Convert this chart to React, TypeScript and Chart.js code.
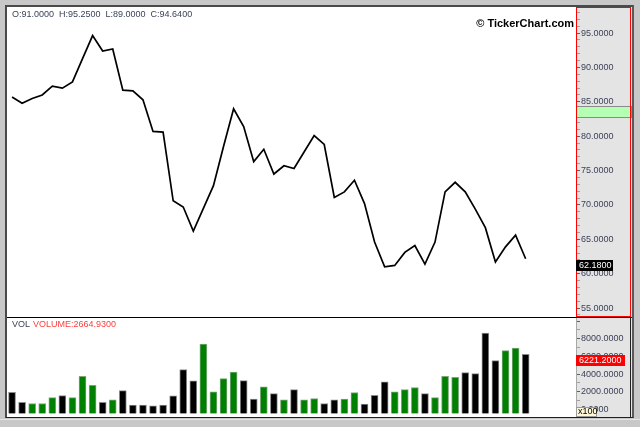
import React, { useEffect, useRef } from 'react';
import { Chart, registerables } from 'chart.js';

Chart.register(...registerables);

// ---- Data ----
const closes: number[] = [
  85.7, 84.8, 85.5, 86.0, 87.3, 87.0, 87.9, 91.3, 94.64, 92.4,
  92.7, 86.7, 86.6, 85.3, 80.7, 80.6, 70.6, 69.7, 66.2, 69.5,
  72.8, 78.5, 84.0, 81.4, 76.3, 78.1, 74.5, 75.7, 75.3, 77.7,
  80.1, 78.8, 71.1, 71.9, 73.6, 70.2, 64.6, 61.0, 61.2, 63.1,
  64.1, 61.4, 64.6, 71.9, 73.3, 71.9, 69.4, 66.7, 61.7, 63.9,
  65.6, 62.18,
];

const volumes: number[] = [
  1950, 820, 680, 680, 1350, 1580, 1350, 3750, 2740, 820,
  1090, 2140, 490, 490, 410, 490, 1540, 4510, 3230, 7400,
  1990, 3490, 4240, 3270, 1170, 2550, 1800, 1090, 2250, 1090,
  1240, 680, 1090, 1170, 1920, 600, 1610, 3120, 1990, 2250,
  2480, 1800, 1350, 3750, 3640, 4170, 4060, 8640, 5520, 6650,
  6950, 6221.2,
];

// 1 = up bar (green), 0 = down bar (black)
const upFlags: number[] = [
  0, 0, 1, 1, 1, 0, 1, 1, 1, 0,
  1, 0, 0, 0, 0, 0, 0, 0, 0, 1,
  1, 1, 1, 0, 0, 1, 0, 1, 0, 1,
  1, 0, 0, 1, 1, 0, 0, 0, 1, 1,
  1, 0, 1, 1, 1, 0, 0, 0, 0, 1,
  1, 0,
];

// axis tick values (labelled every 5 for price, every 2000 for volume)
const priceTicks: number[] = [
  54, 55, 56, 57, 58, 59, 60, 61, 62, 63, 64, 65, 66, 67, 68, 69, 70, 71, 72, 73, 74, 75,
  76, 77, 78, 79, 80, 81, 82, 83, 84, 85, 86, 87, 88, 89, 90, 91, 92, 93, 94, 95, 96, 97, 98,
];
const volumeTicks: number[] = [0, 1000, 2000, 3000, 4000, 5000, 6000, 7000, 8000, 9000, 10000];

const ohlcText = 'O:91.0000  H:95.2500  L:89.0000  C:94.6400';
const copyrightText = '\u00A9 TickerChart.com';
const volLabel = 'VOL';
const volumeText = 'VOLUME:2664.9300';
const lastPrice = 62.18;
const lastVolume = 6221.2;
const bandHigh = 84.4;
const bandLow = 82.8;
const volMultiplier = 'x100';

const FONT = 'Liberation Sans';
const AXIS_W = 56;

const fitAxis = (s: any) => {
  s.width = AXIS_W;
  s.paddingTop = 0;
  s.paddingBottom = 0;
};

const pricePlugin = {
  id: 'pricePlugin',
  beforeDraw(chart: any) {
    const { ctx, width, height, chartArea } = chart;
    ctx.save();
    ctx.fillStyle = '#ffffff';
    ctx.fillRect(0, 0, width, height);
    ctx.fillStyle = '#e4e4e4';
    ctx.fillRect(chartArea.right, 0, width - chartArea.right, height);
    ctx.restore();
  },
  afterDraw(chart: any) {
    const { ctx, width, height, chartArea } = chart;
    const ys = chart.scales.y;
    const ax = chartArea.right;
    ctx.save();
    // green band
    const y1 = Math.round(ys.getPixelForValue(bandHigh));
    const y2 = Math.round(ys.getPixelForValue(bandLow));
    ctx.fillStyle = '#b4ffb4';
    ctx.fillRect(ax, y1, width - ax, y2 - y1);
    ctx.strokeStyle = '#8a8a8a';
    ctx.lineWidth = 1;
    ctx.strokeRect(ax + 0.5, y1 + 0.5, width - ax - 1, y2 - y1);
    // red frame of axis
    ctx.strokeStyle = '#ff0000';
    ctx.strokeRect(ax + 0.5, 0.5, width - ax - 2, height - 1);
    // last price tag
    const ty = Math.round(ys.getPixelForValue(lastPrice)) + 1;
    ctx.fillStyle = '#000000';
    ctx.fillRect(ax, ty, 37, 11);
    ctx.fillStyle = '#ffffff';
    ctx.font = `9px "${FONT}"`;
    ctx.textBaseline = 'middle';
    ctx.textAlign = 'left';
    ctx.fillText(lastPrice.toFixed(4), ax + 3, ty + 6);
    // texts
    ctx.fillStyle = '#3c4258';
    ctx.fillText(ohlcText, 5, 8);
    ctx.fillStyle = '#000000';
    ctx.font = `bold 11px "${FONT}"`;
    ctx.textAlign = 'right';
    ctx.fillText(copyrightText, ax - 2, 17);
    ctx.restore();
  },
};

const volumePlugin = {
  id: 'volumePlugin',
  beforeDraw(chart: any) {
    const { ctx, width, height, chartArea } = chart;
    ctx.save();
    ctx.fillStyle = '#ffffff';
    ctx.fillRect(0, 0, width, height);
    ctx.fillStyle = '#e4e4e4';
    ctx.fillRect(chartArea.right, 0, width - chartArea.right, height);
    ctx.restore();
  },
  afterDraw(chart: any) {
    const { ctx, width, height, chartArea } = chart;
    const ys = chart.scales.y;
    const ax = chartArea.right;
    ctx.save();
    ctx.strokeStyle = '#a8a8a8';
    ctx.lineWidth = 1;
    ctx.beginPath();
    ctx.moveTo(ax + 0.5, 0);
    ctx.lineTo(ax + 0.5, height);
    ctx.stroke();
    ctx.strokeStyle = '#202020';
    ctx.beginPath();
    ctx.moveTo(width - 1.5, 0);
    ctx.lineTo(width - 1.5, height);
    ctx.stroke();
    // last volume tag
    const ty = Math.round(ys.getPixelForValue(lastVolume)) + 1;
    ctx.fillStyle = '#ff0000';
    ctx.fillRect(ax, ty, 49, 11);
    ctx.fillStyle = '#ffffff';
    ctx.font = `9px "${FONT}"`;
    ctx.textBaseline = 'middle';
    ctx.textAlign = 'left';
    ctx.fillText(lastVolume.toFixed(4), ax + 3, ty + 6);
    // multiplier box
    const by = height - 10;
    ctx.fillStyle = '#fff8d8';
    ctx.fillRect(ax, by, 20, 9);
    ctx.strokeStyle = '#9a9a9a';
    ctx.strokeRect(ax + 0.5, by + 0.5, 20, 9);
    ctx.fillStyle = '#000000';
    ctx.fillText(volMultiplier, ax + 2, by + 5);
    // labels
    ctx.fillStyle = '#3c4258';
    ctx.fillText(volLabel, 5, 7);
    ctx.fillStyle = '#ff3c3c';
    ctx.fillText(volumeText, 26, 7);
    ctx.restore();
  },
};

export default function App() {
  const priceRef = useRef<HTMLCanvasElement | null>(null);
  const volRef = useRef<HTMLCanvasElement | null>(null);

  useEffect(() => {
    const tickFont = { family: FONT, size: 9 };
    const price = new Chart(priceRef.current as HTMLCanvasElement, {
      type: 'line',
      data: {
        datasets: [
          {
            data: closes.map((c, i) => ({ x: i, y: c })),
            borderColor: '#000000',
            borderWidth: 1.7,
            pointRadius: 0,
            tension: 0,
            fill: false,
          },
        ],
      },
      options: {
        animation: false,
        responsive: false,
        events: [],
        layout: { padding: 0 },
        plugins: { legend: { display: false }, tooltip: { enabled: false } },
        scales: {
          x: { type: 'linear', min: -0.5, max: 56, display: false },
          y: {
            position: 'right',
            min: 53.7,
            max: 98.8,
            afterBuildTicks: (s: any) => { s.ticks = priceTicks.map((v) => ({ value: v })); },
            afterFit: fitAxis,
            border: { display: false },
            grid: {
              drawOnChartArea: false,
              drawTicks: true,
              tickLength: 4,
              color: (c: any) => (c.tick && c.tick.value % 5 === 0 ? '#606060' : '#a0a0a0'),
            },
            ticks: {
              autoSkip: false,
              padding: 1,
              color: '#3c4258',
              font: tickFont,
              callback: (v: any) => (Number(v) % 5 === 0 ? Number(v).toFixed(4) : ''),
            },
          },
        },
      } as any,
      plugins: [pricePlugin],
    });

    const vol = new Chart(volRef.current as HTMLCanvasElement, {
      type: 'bar',
      data: {
        datasets: [
          {
            data: volumes.map((v, i) => ({ x: i, y: v })),
            backgroundColor: upFlags.map((u) => (u ? '#008000' : '#000000')),
            borderColor: upFlags.map((u) => (u ? '#7aa87a' : '#8a8a8a')),
            borderWidth: { top: 1, left: 1, right: 1, bottom: 0 },
            borderSkipped: false,
            barThickness: 7,
            base: -450,
          },
        ],
      },
      options: {
        animation: false,
        responsive: false,
        events: [],
        layout: { padding: 0 },
        plugins: { legend: { display: false }, tooltip: { enabled: false } },
        scales: {
          x: { type: 'linear', min: -0.5, max: 56, display: false, offset: false },
          y: {
            position: 'right',
            min: -847,
            max: 10340,
            afterBuildTicks: (s: any) => { s.ticks = volumeTicks.map((v) => ({ value: v })); },
            afterFit: fitAxis,
            border: { display: false },
            grid: {
              drawOnChartArea: false,
              drawTicks: true,
              tickLength: 4,
              color: (c: any) => (c.tick && c.tick.value % 2000 === 0 ? '#606060' : '#a0a0a0'),
            },
            ticks: {
              autoSkip: false,
              padding: 1,
              color: '#3c4258',
              font: tickFont,
              callback: (v: any) => {
                const n = Number(v);
                return n % 2000 === 0 && n <= 8000 ? n.toFixed(4) : '';
              },
            },
          },
        },
      } as any,
      plugins: [volumePlugin],
    });

    return () => {
      price.destroy();
      vol.destroy();
    };
  }, []);

  return (
    <div style={{ position: 'fixed', left: 0, top: 0, width: 640, height: 427, background: '#c8c8c8', overflow: 'hidden' }}>
      <div style={{ position: 'absolute', left: 0, top: 419, width: 640, height: 1, background: '#e6e6e6' }} />
      <div
        style={{
          position: 'absolute', left: 5, top: 5, width: 629, height: 413, boxSizing: 'border-box',
          borderLeft: '2px solid #4a4a4a', borderTop: '2px solid #4a4a4a',
          borderRight: '2px solid #5a5a5a', borderBottom: '1px solid #202020', background: '#e4e4e4',
        }}
      />
      <canvas ref={priceRef} width={625} height={310} style={{ position: 'absolute', left: 7, top: 7, width: 625, height: 310 }} />
      <div style={{ position: 'absolute', left: 7, top: 317, width: 625, height: 1, background: '#000000' }} />
      <canvas ref={volRef} width={625} height={99} style={{ position: 'absolute', left: 7, top: 318, width: 625, height: 99 }} />
    </div>
  );
}
